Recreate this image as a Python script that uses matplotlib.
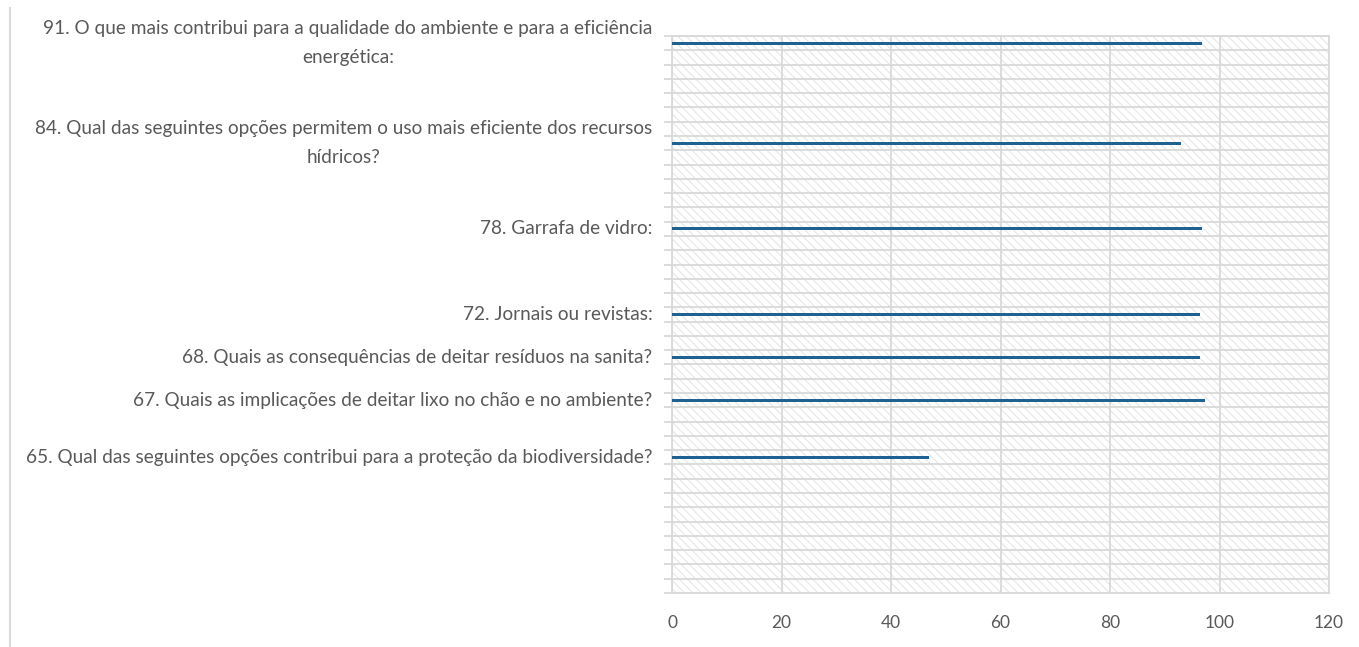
import matplotlib
matplotlib.use("Agg")
import matplotlib.pyplot as plt
from matplotlib.patches import Rectangle
from matplotlib.lines import Line2D

questions = [
    "91. O que mais contribui para a qualidade do ambiente e para a eficiência\nenergética:",
    "84. Qual das seguintes opções permitem o uso mais eficiente dos recursos\nhídricos?",
    "78. Garrafa de vidro:",
    "72. Jornais ou revistas:",
    "68. Quais as consequências de deitar resíduos na sanita?",
    "67. Quais as implicações de deitar lixo no chão e no ambiente?",
    "65. Qual das seguintes opções contribui para a proteção da biodiversidade?",
]
values = [96.8, 92.9, 96.8, 96.4, 96.4, 97.3, 47.0]
# category slot of each question on the 39-slot axis (others are blank)
slots = [0, 7, 13, 19, 22, 25, 29]
n_slots = 39
xticks = [0, 20, 40, 60, 80, 100, 120]

plt.rcParams['font.family'] = ['Lato', 'DejaVu Sans']
plt.rcParams['hatch.linewidth'] = 0.8
grey = '#d9d9d9'
txt = '#595959'

fig = plt.figure(figsize=(13.59, 6.47), dpi=100)
ax = fig.add_axes([672/1359, 1-593/647, (1329-672)/1359, (593-36)/647])

# hatched plot area
ax.add_patch(Rectangle((0, 0), 1, 1, transform=ax.transAxes, facecolor='white',
                       hatch='\\\\\\\\', edgecolor='#e6e6e6', lw=0, zorder=0))

ax.barh(slots, values, height=0.22, color='#1f6190', zorder=3)

ax.set_xlim(0, 120)
ax.set_ylim(n_slots - 0.5, -0.5)
ax.set_xticks(xticks)
ax.set_xticklabels([str(t) for t in xticks])
ax.xaxis.grid(True, color=grey, lw=1.3, zorder=1)

bounds = [i - 0.5 for i in range(n_slots + 1)]
ax.set_yticks(bounds)
ax.set_yticklabels([])
ax.yaxis.grid(True, color=grey, lw=1.3, zorder=1)
ax.set_yticks(slots, minor=True)
ax.set_yticklabels(questions, minor=True, multialignment='center', linespacing=1.85)
for lbl in ax.get_yticklabels(minor=True):
    lbl.set_va('center')
ax.set_axisbelow(True)

ax.tick_params(axis='y', which='major', length=6, color=grey, width=1.3)
ax.tick_params(axis='y', which='minor', length=0, pad=14, labelsize=13.7, labelcolor=txt)
ax.tick_params(axis='x', length=0, pad=16, labelsize=12.5, labelcolor=txt)
for s in ax.spines.values():
    s.set_color(grey)
    s.set_linewidth(1.3)

fig.add_artist(Line2D([10/1359, 10/1359], [0, 1-8/647], color=grey, lw=1.5))

fig.savefig("out.png", dpi=100)
